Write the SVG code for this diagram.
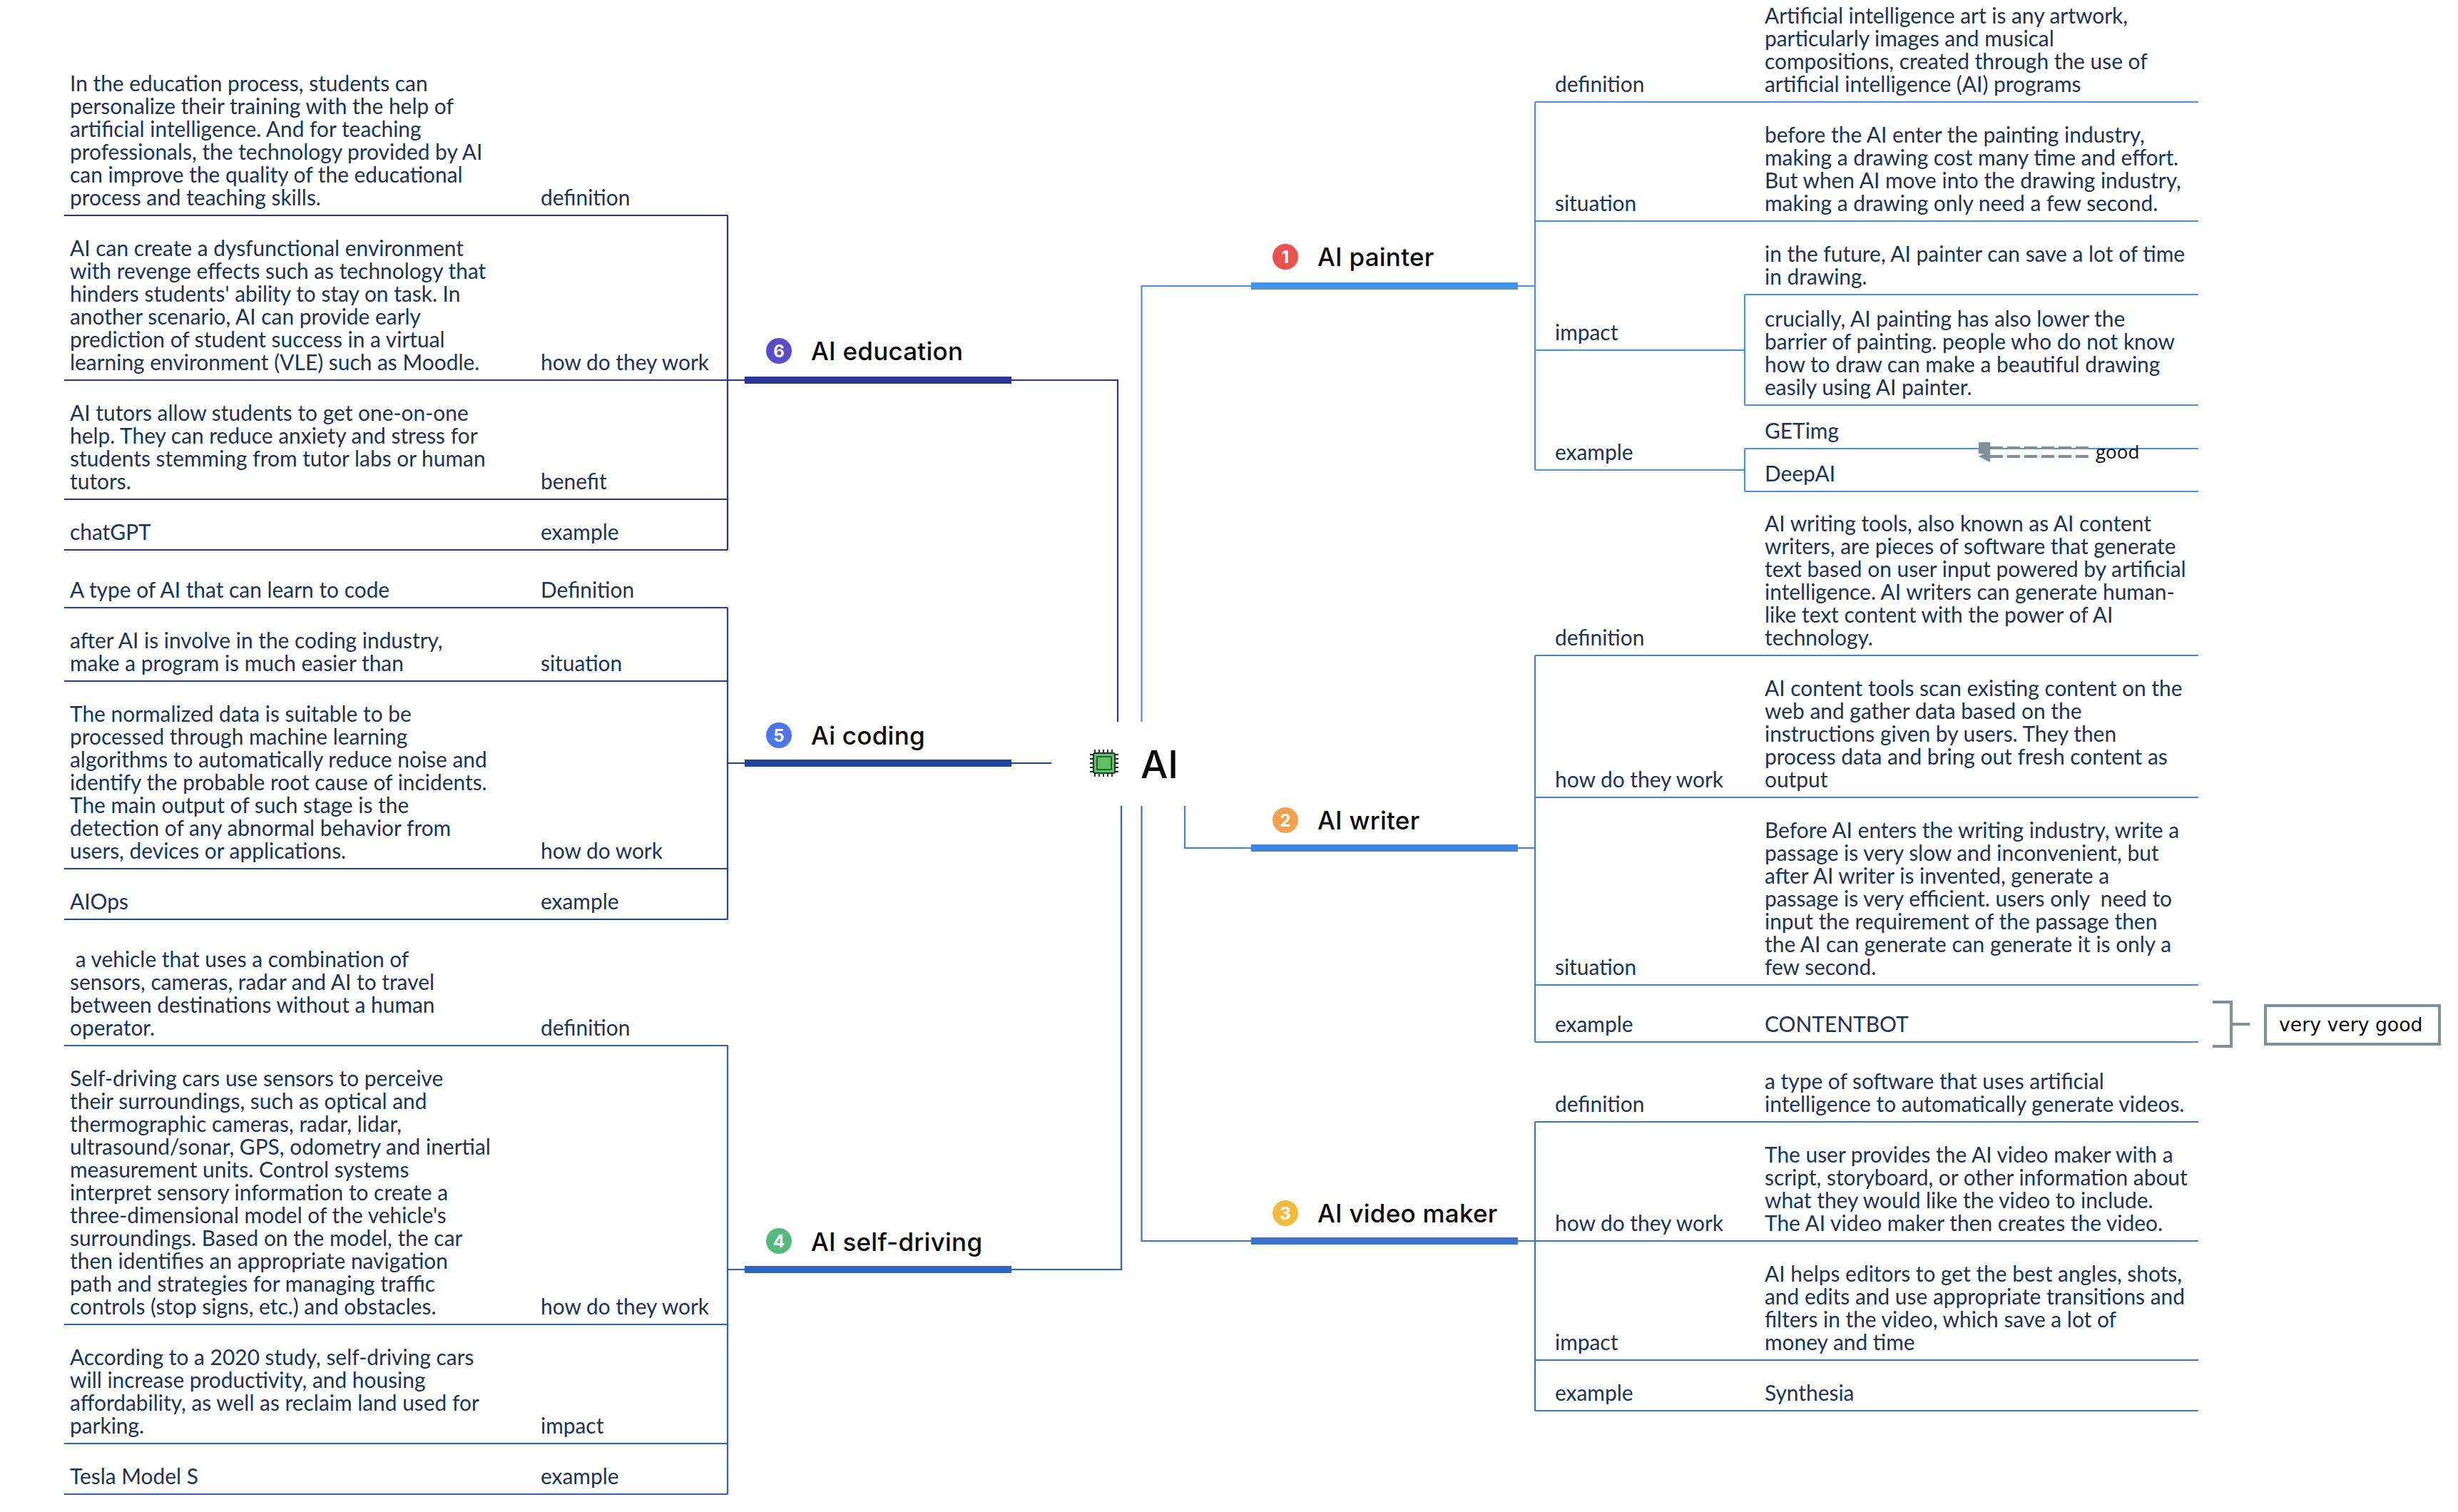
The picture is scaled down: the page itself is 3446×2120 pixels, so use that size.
<svg xmlns="http://www.w3.org/2000/svg" width="3446" height="2120" viewBox="0 0 3446 2120">
<style>
.b{font-family:"Lato","Liberation Sans",sans-serif;font-size:29.9px;fill:#1c3358;white-space:pre;transform:translateY(1px)}
.t{font-family:"Inter","Liberation Sans",sans-serif;font-size:35px;font-weight:500;letter-spacing:.25px;fill:#0a0a0a}
.n{font-family:"Inter","Liberation Sans",sans-serif;font-size:24px;font-weight:700;fill:#fff;text-anchor:middle}
.c{fill:none;stroke-width:2.2}
.g{fill:none;stroke:#7f8f9c;stroke-width:4}
.p{stroke:#4a90e8}.w{stroke:#4383dc}.v{stroke:#3a74d0}.s{stroke:#2e62bd}.o{stroke:#1f4599}.e{stroke:#2a3593}
</style>
<rect width="3446" height="2120" fill="#fff"/>
<g id="connectors">
<path class="c p" d="M1600.5 1012V401H1754M2128 401H2152M2152 143V659M2152 143H3082M2152 310H3082M2152 491H2446M2446 413V568M2446 413H3082M2446 568H3082M2152 659H2446M2446 629V689M2446 629H3082M2446 689H3082"/>
<path class="c w" d="M1661 1130V1189H1754M2128 1189H2152M2152 919V1461M2152 919H3082M2152 1118H3082M2152 1381H3082M2152 1461H3082"/>
<path class="c v" d="M1600.5 1130V1740H1754M2128 1740H2152M2152 1573V1978M2152 1573H3082M2152 1740H3082M2152 1907H3082M2152 1978H3082"/>
<path class="c s" d="M1572 1130V1780H1418M1044 1780H1020M1020 1466V2095M90 1466H1020M90 1857H1020M90 2024H1020M90 2095H1020"/>
<path class="c o" d="M1474 1070H1418M1044 1070H1020M1020 852V1289M90 852H1020M90 955H1020M90 1218H1020M90 1289H1020"/>
<path class="c e" d="M1567 1012V533H1418M1044 533H1020M1020 302V771M90 302H1020M90 533H1020M90 700H1020M90 771H1020"/>
<rect x="1754" y="396" width="374" height="10" fill="#4a90e8"/>
<rect x="1754" y="1184" width="374" height="10" fill="#4383dc"/>
<rect x="1754" y="1735" width="374" height="10" fill="#3a74d0"/>
<rect x="1044" y="1775" width="374" height="10" fill="#2e62bd"/>
<rect x="1044" y="1065" width="374" height="10" fill="#1f4599"/>
<rect x="1044" y="528" width="374" height="10" fill="#2a3593"/>
</g>
<g id="root">
<g id="chip">
<path d="M1535 1051v6M1541 1051v6M1547 1051v6M1553 1051v6M1559 1051v6M1535 1083v6M1541 1083v6M1547 1083v6M1553 1083v6M1559 1083v6M1528 1058h6M1528 1064h6M1528 1070h6M1528 1076h6M1528 1082h6M1562 1058h6M1562 1064h6M1562 1070h6M1562 1076h6M1562 1082h6" stroke="#222" stroke-width="1.8"/>
<rect x="1533" y="1056" width="30" height="28" rx="2" fill="#63bf68" stroke="#1d3b25" stroke-width="2"/>
<rect x="1538" y="1061" width="20" height="18" fill="#63bf68" stroke="#1d3b25" stroke-width="1.5"/>
</g>
<text x="1599" y="1091" style="font-family:Inter,'Liberation Sans',sans-serif;font-size:54px;font-weight:500;fill:#0a0a0a">AI</text>
</g>
<g id="painter">
<circle cx="1802" cy="360" r="18" fill="#e9524f"/><text class="n" x="1802" y="369">1</text>
<text class="t" x="1847" y="373">AI painter</text>
<text class="b"><tspan x="2180" y="128">definition</tspan><tspan x="2180" y="295">situation</tspan><tspan x="2180" y="476">impact</tspan><tspan x="2180" y="644">example</tspan></text>
<text class="b"><tspan x="2474" y="32">Artificial intelligence art is any artwork,</tspan><tspan x="2474" y="64">particularly images and musical</tspan><tspan x="2474" y="96">compositions, created through the use of</tspan><tspan x="2474" y="128">artificial intelligence (AI) programs</tspan></text>
<text class="b"><tspan x="2474" y="199">before the AI enter the painting industry,</tspan><tspan x="2474" y="231">making a drawing cost many time and effort.</tspan><tspan x="2474" y="263">But when AI move into the drawing industry,</tspan><tspan x="2474" y="295">making a drawing only need a few second.</tspan></text>
<text class="b"><tspan x="2474" y="366">in the future, AI painter can save a lot of time</tspan><tspan x="2474" y="398">in drawing.</tspan></text>
<text class="b"><tspan x="2474" y="457">crucially, AI painting has also lower the</tspan><tspan x="2474" y="489">barrier of painting. people who do not know</tspan><tspan x="2474" y="521">how to draw can make a beautiful drawing</tspan><tspan x="2474" y="553">easily using AI painter.</tspan></text>
<text class="b" x="2474" y="614">GETimg</text>
<text class="b" x="2474" y="674">DeepAI</text>
</g>
<g id="good-note">
<path d="M2790 628H2930M2790 640H2933" class="g" stroke-width="4.5" stroke-dasharray="18 6"/>
<rect x="2774" y="620" width="16" height="16" fill="#7f8f9c"/>
<path d="M2774 640L2790 632V648Z" fill="#7f8f9c"/>
<text x="2938" y="643" style="font-family:'Open Sans',sans-serif;font-size:26px;fill:#0a0a0a">good</text>
</g>
<g id="writer">
<circle cx="1802" cy="1150" r="18" fill="#f2a14f"/><text class="n" x="1802" y="1159">2</text>
<text class="t" x="1847" y="1163">AI writer</text>
<text class="b"><tspan x="2180" y="904">definition</tspan><tspan x="2180" y="1103">how do they work</tspan><tspan x="2180" y="1366">situation</tspan><tspan x="2180" y="1446">example</tspan></text>
<text class="b"><tspan x="2474" y="744">AI writing tools, also known as AI content</tspan><tspan x="2474" y="776">writers, are pieces of software that generate</tspan><tspan x="2474" y="808">text based on user input powered by artificial</tspan><tspan x="2474" y="840">intelligence. AI writers can generate human-</tspan><tspan x="2474" y="872">like text content with the power of AI</tspan><tspan x="2474" y="904">technology.</tspan></text>
<text class="b"><tspan x="2474" y="975">AI content tools scan existing content on the</tspan><tspan x="2474" y="1007">web and gather data based on the</tspan><tspan x="2474" y="1039">instructions given by users. They then</tspan><tspan x="2474" y="1071">process data and bring out fresh content as</tspan><tspan x="2474" y="1103">output</tspan></text>
<text class="b"><tspan x="2474" y="1174">Before AI enters the writing industry, write a</tspan><tspan x="2474" y="1206">passage is very slow and inconvenient, but</tspan><tspan x="2474" y="1238">after AI writer is invented, generate a</tspan><tspan x="2474" y="1270">passage is very efficient. users only  need to</tspan><tspan x="2474" y="1302">input the requirement of the passage then</tspan><tspan x="2474" y="1334">the AI can generate can generate it is only a</tspan><tspan x="2474" y="1366">few second.</tspan></text>
<text class="b" x="2474" y="1446">CONTENTBOT</text>
</g>
<g id="very-good-note">
<path class="g" d="M3102 1405H3128V1467H3102M3128 1436H3154"/>
<rect class="g" x="3176" y="1410" width="244" height="54" fill="#fff"/>
<text x="3195" y="1446" style="font-family:'DejaVu Sans',sans-serif;font-size:26.7px;fill:#0a0a0a">very very good</text>
</g>
<g id="video">
<circle cx="1802" cy="1701" r="18" fill="#f3bb3d"/><text class="n" x="1802" y="1710">3</text>
<text class="t" x="1847" y="1714">AI video maker</text>
<text class="b"><tspan x="2180" y="1558">definition</tspan><tspan x="2180" y="1725">how do they work</tspan><tspan x="2180" y="1892">impact</tspan><tspan x="2180" y="1963">example</tspan></text>
<text class="b"><tspan x="2474" y="1526">a type of software that uses artificial</tspan><tspan x="2474" y="1558">intelligence to automatically generate videos.</tspan></text>
<text class="b"><tspan x="2474" y="1629">The user provides the AI video maker with a</tspan><tspan x="2474" y="1661">script, storyboard, or other information about</tspan><tspan x="2474" y="1693">what they would like the video to include.</tspan><tspan x="2474" y="1725">The AI video maker then creates the video.</tspan></text>
<text class="b"><tspan x="2474" y="1796">AI helps editors to get the best angles, shots,</tspan><tspan x="2474" y="1828">and edits and use appropriate transitions and</tspan><tspan x="2474" y="1860">filters in the video, which save a lot of</tspan><tspan x="2474" y="1892">money and time</tspan></text>
<text class="b" x="2474" y="1963">Synthesia</text>
</g>
<g id="self-driving">
<circle cx="1092" cy="1740" r="18" fill="#55b97d"/><text class="n" x="1092" y="1749">4</text>
<text class="t" x="1137" y="1754">AI self-driving</text>
<text class="b"><tspan x="758" y="1451">definition</tspan><tspan x="758" y="1842">how do they work</tspan><tspan x="758" y="2009">impact</tspan><tspan x="758" y="2080">example</tspan></text>
<text class="b"><tspan x="98" y="1355"> a vehicle that uses a combination of</tspan><tspan x="98" y="1387">sensors, cameras, radar and AI to travel</tspan><tspan x="98" y="1419">between destinations without a human</tspan><tspan x="98" y="1451">operator.</tspan></text>
<text class="b"><tspan x="98" y="1522">Self-driving cars use sensors to perceive</tspan><tspan x="98" y="1554">their surroundings, such as optical and</tspan><tspan x="98" y="1586">thermographic cameras, radar, lidar,</tspan><tspan x="98" y="1618">ultrasound/sonar, GPS, odometry and inertial</tspan><tspan x="98" y="1650">measurement units. Control systems</tspan><tspan x="98" y="1682">interpret sensory information to create a</tspan><tspan x="98" y="1714">three-dimensional model of the vehicle's</tspan><tspan x="98" y="1746">surroundings. Based on the model, the car</tspan><tspan x="98" y="1778">then identifies an appropriate navigation</tspan><tspan x="98" y="1810">path and strategies for managing traffic</tspan><tspan x="98" y="1842">controls (stop signs, etc.) and obstacles.</tspan></text>
<text class="b"><tspan x="98" y="1913">According to a 2020 study, self-driving cars</tspan><tspan x="98" y="1945">will increase productivity, and housing</tspan><tspan x="98" y="1977">affordability, as well as reclaim land used for</tspan><tspan x="98" y="2009">parking.</tspan></text>
<text class="b" x="98" y="2080">Tesla Model S</text>
</g>
<g id="coding">
<circle cx="1092" cy="1031" r="18" fill="#4f76e8"/><text class="n" x="1092" y="1040">5</text>
<text class="t" x="1137" y="1044">Ai coding</text>
<text class="b"><tspan x="758" y="837">Definition</tspan><tspan x="758" y="940">situation</tspan><tspan x="758" y="1203">how do work</tspan><tspan x="758" y="1274">example</tspan></text>
<text class="b" x="98" y="837">A type of AI that can learn to code</text>
<text class="b"><tspan x="98" y="908">after AI is involve in the coding industry,</tspan><tspan x="98" y="940">make a program is much easier than</tspan></text>
<text class="b"><tspan x="98" y="1011">The normalized data is suitable to be</tspan><tspan x="98" y="1043">processed through machine learning</tspan><tspan x="98" y="1075">algorithms to automatically reduce noise and</tspan><tspan x="98" y="1107">identify the probable root cause of incidents.</tspan><tspan x="98" y="1139">The main output of such stage is the</tspan><tspan x="98" y="1171">detection of any abnormal behavior from</tspan><tspan x="98" y="1203">users, devices or applications.</tspan></text>
<text class="b" x="98" y="1274">AIOps</text>
</g>
<g id="education">
<circle cx="1092" cy="492" r="18" fill="#5a4bc8"/><text class="n" x="1092" y="501">6</text>
<text class="t" x="1137" y="505">AI education</text>
<text class="b"><tspan x="758" y="287">definition</tspan><tspan x="758" y="518">how do they work</tspan><tspan x="758" y="685">benefit</tspan><tspan x="758" y="756">example</tspan></text>
<text class="b"><tspan x="98" y="127">In the education process, students can</tspan><tspan x="98" y="159">personalize their training with the help of</tspan><tspan x="98" y="191">artificial intelligence. And for teaching</tspan><tspan x="98" y="223">professionals, the technology provided by AI</tspan><tspan x="98" y="255">can improve the quality of the educational</tspan><tspan x="98" y="287">process and teaching skills.</tspan></text>
<text class="b"><tspan x="98" y="358">AI can create a dysfunctional environment</tspan><tspan x="98" y="390">with revenge effects such as technology that</tspan><tspan x="98" y="422">hinders students' ability to stay on task. In</tspan><tspan x="98" y="454">another scenario, AI can provide early</tspan><tspan x="98" y="486">prediction of student success in a virtual</tspan><tspan x="98" y="518">learning environment (VLE) such as Moodle.</tspan></text>
<text class="b"><tspan x="98" y="589">AI tutors allow students to get one-on-one</tspan><tspan x="98" y="621">help. They can reduce anxiety and stress for</tspan><tspan x="98" y="653">students stemming from tutor labs or human</tspan><tspan x="98" y="685">tutors.</tspan></text>
<text class="b" x="98" y="756">chatGPT</text>
</g>
</svg>
